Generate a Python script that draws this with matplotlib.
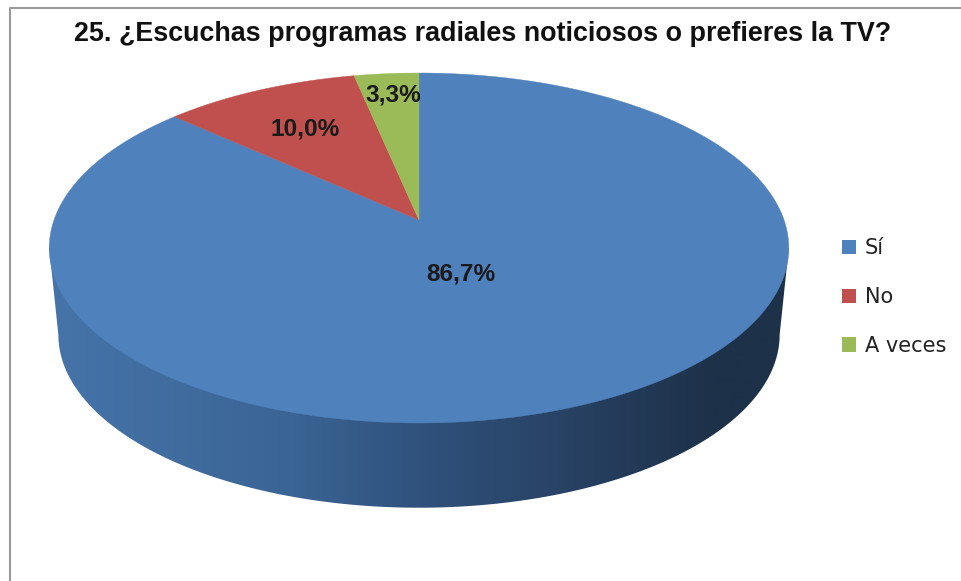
import matplotlib
matplotlib.use('Agg')
import matplotlib.pyplot as plt
import numpy as np
from matplotlib.colors import LinearSegmentedColormap
from matplotlib.patches import PathPatch, Patch
from matplotlib.path import Path

title = '25. ¿Escuchas programas radiales noticiosos o prefieres la TV?'
categories = ['Sí', 'No', 'A veces']
values = [86.7, 10.0, 3.3]
colors = ['#4F81BD', '#C0504D', '#9BBB59']

# pixel layout
label_xy = [(461, 274), (305, 129), (393, 95)]
k = 0.16  # perspective


def project(ang, r=1.0, x0=419, y0=220, a=365, b=170.5):
    # ang: clockwise from 12 o'clock, in degrees
    t = np.radians(ang)
    u = r * np.sin(t)
    v = r * np.cos(t)
    w = 1 + k * v
    return x0 + a * u / w, y0 - b * v / w


fig = plt.figure(figsize=(9.61, 5.81), dpi=100)
ax = fig.add_axes([0, 0, 1, 1])
ax.set_xlim(0, 961)
ax.set_ylim(581, 0)
ax.axis('off')

# chart border, only top and left are in the crop
ax.plot([10, 10, 961], [581, 8, 8], color='#9a9a9a', linewidth=1.5, zorder=1)

# side of the pie
ang_ext = np.degrees(np.arcsin(k))  # where the outline is widest
side_ang = np.linspace(90 + ang_ext, 270 - ang_ext, 200)
xs_low, ys_low = project(side_ang, a=356, b=168.6, y0=307)
x_r, y_r = project(90 + ang_ext)
x_l, y_l = project(270 - ang_ext)
side_xy = np.column_stack([np.r_[x_r, xs_low, x_l], np.r_[y_r, ys_low, y_l]])
side_clip = PathPatch(Path(np.vstack([side_xy, side_xy[0]]), closed=True),
                      transform=ax.transData, facecolor='none', edgecolor='none')
ax.add_patch(side_clip)
side_cmap = LinearSegmentedColormap.from_list('side', [
    (0.0, '#4674A9'), (0.33, '#3A6494'), (0.5, '#30527D'),
    (0.7, '#284264'), (0.9, '#1D3149'), (1.0, '#1D3149')])
grad = np.linspace(0, 1, 400).reshape(1, -1)
im = ax.imshow(grad, cmap=side_cmap, extent=[49, 789, 520, 240], aspect='auto', zorder=2)
im.set_clip_path(side_clip)
ax.set_xlim(0, 961)
ax.set_ylim(581, 0)

# top face
edges = np.r_[0, np.cumsum(values)] / np.sum(values) * 360
for i in range(len(values)):
    ang = np.linspace(edges[i], edges[i + 1], 300)
    xs, ys = project(ang)
    x0, y0 = project(0, r=0)
    ax.fill(np.r_[x0, xs], np.r_[y0, ys], color=colors[i], linewidth=0.3, zorder=3)

for v, (x, y) in zip(values, label_xy):
    ax.text(x, y, f'{v:.1f}%'.replace('.', ','), ha='center', va='center',
            fontsize=17.6, family='Liberation Sans', fontweight='bold', color='#1a1a1a', zorder=4)

ax.text(483, 34, title, ha='center', va='center', fontsize=19.4,
        family='Liberation Sans', fontweight='bold', color='#111111')

handles = [Patch(facecolor=c, edgecolor='none') for c in colors]
ax.legend(handles, categories, loc='center left', bbox_to_anchor=(842, 297),
          bbox_transform=ax.transData, frameon=False, prop={'family': 'DejaVu Sans', 'size': 15},
          handlelength=0.67, handleheight=0.67, handletextpad=0.42, labelspacing=1.38,
          borderpad=0, borderaxespad=0, labelcolor='#222222')

fig.savefig('out.png', dpi=100)
